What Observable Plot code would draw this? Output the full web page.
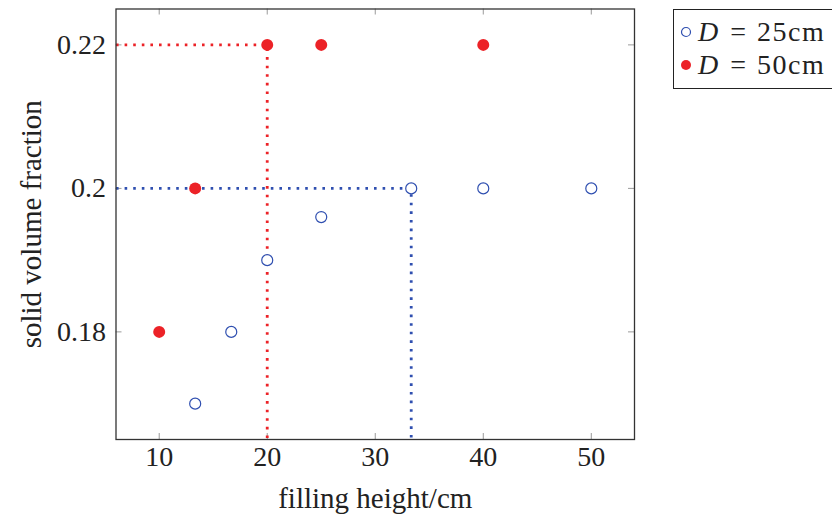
<!DOCTYPE html>
<html><head><meta charset="utf-8">
<script src="https://cdn.jsdelivr.net/npm/d3@7"></script>
<script src="https://cdn.jsdelivr.net/npm/@observablehq/plot@0.6"></script>
<style>
body{margin:0;width:832px;height:517px;overflow:hidden;background:#fff;font-family:"Liberation Serif",serif;}
#wrap{position:relative;width:832px;height:517px;}
#legend{position:absolute;left:673px;top:9px;width:180px;height:80px;border:1.2px solid #222;box-sizing:border-box;font-size:28px;color:#222;}
.row{position:absolute;left:0;height:32px;display:flex;align-items:center;white-space:pre;}
.row svg{margin-left:6px;margin-right:6px;}
.it{font-style:italic;}
.eq{margin:0 11px 0 12px;}
.num{letter-spacing:1.5px;}
</style></head>
<body><div id="wrap"></div>
<script>
// Data
const heightsD25 = [13.33, 16.67, 20, 25, 33.33, 40, 50];
const fracD25    = [0.17, 0.18, 0.19, 0.196, 0.2, 0.2, 0.2];
const heightsD50 = [10, 13.33, 20, 25, 40];
const fracD50    = [0.18, 0.2, 0.22, 0.22, 0.22];
const xTicks = [10, 20, 30, 40, 50];
const yTicks = [0.18, 0.2, 0.22];
const yTickLabels = ["0.18", "0.2", "0.22"];
const xDomain = [6, 54];
const yDomain = [0.165, 0.225];
// guide lines: (filling height, fraction) where each series reaches its plateau
const guideD25 = {x: 33.33, y: 0.2};
const guideD50 = {x: 20, y: 0.22};
const seriesD = ["D", "D"];
const seriesSizes = ["25cm", "50cm"];

const blue = "#2f4fb0", red = "#ec2227";
const d25 = heightsD25.map((h, i) => ({h, f: fracD25[i]}));
const d50 = heightsD50.map((h, i) => ({h, f: fracD50[i]}));
const guidePath = g => [{x: xDomain[0], y: g.y}, {x: g.x, y: g.y}, {x: g.x, y: yDomain[0]}];

const tickStyle = {stroke: "#9a9a9a", strokeWidth: 1};
const FS = 28;
const chart = Plot.plot({
  width: 832, height: 517,
  marginLeft: 115.5, marginRight: 198, marginTop: 8.5, marginBottom: 78,
  style: {fontFamily: "'Liberation Serif', serif", fontSize: FS + "px", color: "#222", background: "white"},
  x: {domain: xDomain},
  y: {domain: yDomain},
  marks: [
    Plot.ruleX(xTicks, {x: d => d, y1: yDomain[0], y2: yDomain[0], insetTop: -6, ...tickStyle}),
    Plot.ruleX(xTicks, {x: d => d, y1: yDomain[1], y2: yDomain[1], insetBottom: -6, ...tickStyle}),
    Plot.ruleY(yTicks, {y: d => d, x1: xDomain[0], x2: xDomain[0], insetRight: -6, ...tickStyle}),
    Plot.ruleY(yTicks, {y: d => d, x1: xDomain[1], x2: xDomain[1], insetLeft: -6, ...tickStyle}),
    Plot.line(guidePath(guideD50), {x: "x", y: "y", stroke: red, strokeWidth: 2.8, strokeDasharray: "2.6 6", strokeLinecap: "butt"}),
    Plot.line(guidePath(guideD25), {x: "x", y: "y", stroke: blue, strokeWidth: 2.8, strokeDasharray: "2.6 6", strokeLinecap: "butt"}),
    Plot.frame({stroke: "#333", strokeWidth: 1.3}),
    Plot.dot(d25, {x: "h", y: "f", r: 5.5, stroke: blue, strokeWidth: 1.2, fill: "white"}),
    Plot.dot(d50, {x: "h", y: "f", r: 6, fill: red, stroke: "none"}),
    Plot.axisX(xTicks, {tickSize: 0, tickPadding: 7, fontSize: FS, label: null}),
    Plot.axisY(yTicks, {tickSize: 0, tickPadding: 10, fontSize: FS, tickFormat: d => yTickLabels[yTicks.indexOf(d)], label: null}),
    Plot.text(["filling height/cm"], {frameAnchor: "bottom", dy: 68, fontSize: 29, letterSpacing: "0.6px", text: d => d}),
    Plot.text(["solid volume fraction"], {frameAnchor: "left", textAnchor: "middle", dx: -84, rotate: -90, fontSize: 29, letterSpacing: "0.8px", text: d => d})
  ]
});
const wrap = document.getElementById("wrap");
wrap.appendChild(chart);

// legend
const legend = document.createElement("div");
legend.id = "legend";
const mk = (filled, color) => filled
  ? `<svg width="12" height="12"><circle cx="6" cy="6" r="5" fill="${color}"/></svg>`
  : `<svg width="12" height="12"><circle cx="6" cy="6" r="4.5" fill="none" stroke="${color}" stroke-width="1.2"/></svg>`;
const fmt = i => `<span class="it">${seriesD[i]}</span><span class="eq">=</span><span class="num">${seriesSizes[i]}</span>`;
legend.innerHTML =
  `<div class="row" style="top:6px">${mk(false, blue)}${fmt(0)}</div>` +
  `<div class="row" style="top:39px">${mk(true, red)}${fmt(1)}</div>`;
wrap.appendChild(legend);
</script>
</body></html>
